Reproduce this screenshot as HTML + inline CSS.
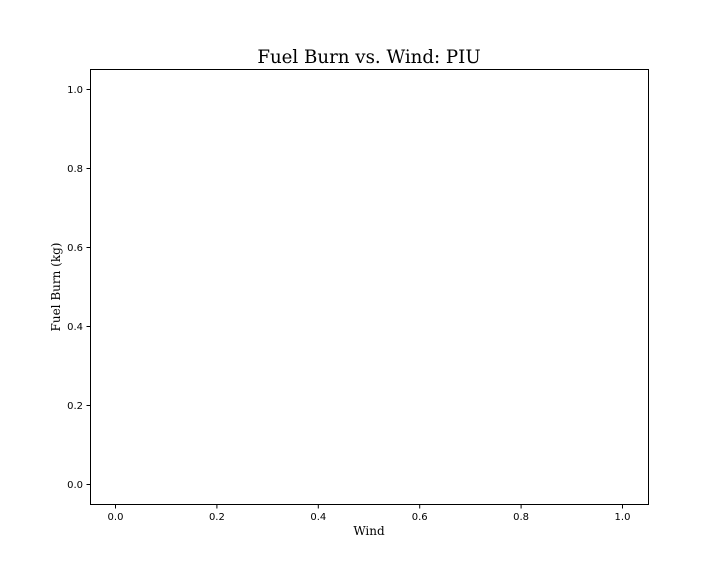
<!DOCTYPE html>
<html><head><meta charset="utf-8"><style>
html,body{margin:0;padding:0;background:#fff;}
svg{display:block;}
</style></head><body>
<svg width="720" height="576" xmlns="http://www.w3.org/2000/svg">
<rect x="0" y="0" width="720" height="576" fill="#fff"/>
<text x="369" y="63" text-anchor="middle" font-family="'DejaVu Serif','Liberation Serif',serif" font-size="18.2">Fuel Burn vs. Wind: PIU</text>
<rect x="90.5" y="69.5" width="558" height="435" fill="none" stroke="#000" stroke-width="1"/>
<g id="xt"></g>
<g id="yt"></g>
<text x="369" y="535" text-anchor="middle" font-family="'DejaVu Serif','Liberation Serif',serif" font-size="12">Wind</text>
<text transform="translate(60,287) rotate(-90)" text-anchor="middle" font-family="'DejaVu Serif','Liberation Serif',serif" font-size="12">Fuel Burn (kg)</text>
</svg>
<script>
const xTicks=[0,0.2,0.4,0.6,0.8,1.0];
const yTicks=[0,0.2,0.4,0.6,0.8,1.0];
const xs=v=>115.5+v*507;
const ys=v=>484.5-v*395;
const NS="http://www.w3.org/2000/svg";
const xg=document.getElementById('xt'),yg=document.getElementById('yt');
xTicks.forEach(v=>{
 const l=document.createElementNS(NS,'line');
 l.setAttribute('x1',xs(v));l.setAttribute('x2',xs(v));l.setAttribute('y1',505);l.setAttribute('y2',508.5);l.setAttribute('stroke','#000');
 
 
 xg.appendChild(l);
 const t=document.createElementNS(NS,'text');
 t.setAttribute('x',xs(v));t.setAttribute('y',520);t.setAttribute('text-anchor','middle');
 t.setAttribute('font-family',"'DejaVu Sans','Liberation Sans',sans-serif");t.setAttribute('font-size','10');
 t.textContent=v.toFixed(1);
 
 
 xg.appendChild(t);
});
yTicks.forEach(v=>{
 const l=document.createElementNS(NS,'line');
 l.setAttribute('x1',86.5);l.setAttribute('x2',90);l.setAttribute('y1',ys(v));l.setAttribute('y2',ys(v));l.setAttribute('stroke','#000');
 
 
 yg.appendChild(l);
 const t=document.createElementNS(NS,'text');
 t.setAttribute('x',83);t.setAttribute('y',ys(v)+3.5);t.setAttribute('text-anchor','end');
 t.setAttribute('font-family',"'DejaVu Sans','Liberation Sans',sans-serif");t.setAttribute('font-size','10');
 t.textContent=v.toFixed(1);
 
 
 yg.appendChild(t);
});
</script>
</body></html>
